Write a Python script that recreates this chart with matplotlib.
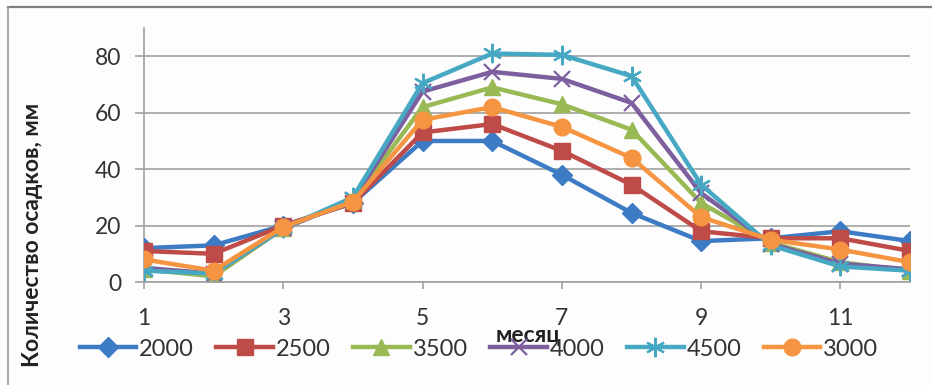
import matplotlib
matplotlib.use('Agg')
import matplotlib.pyplot as plt
from matplotlib.lines import Line2D

plt.rcParams['font.family'] = ['Lato', 'Open Sans', 'DejaVu Sans']

months = [1, 2, 3, 4, 5, 6, 7, 8, 9, 10, 11, 12]

p2000 = [12, 13, 20, 28, 50, 50, 38, 24.5, 14.5, 15.5, 18, 14.5]
p2500 = [11, 10, 20, 28, 53, 56, 46.5, 34.5, 18, 15.5, 15.5, 11]
p3500 = [4.5, 2, 19, 29, 62, 69, 63, 54, 28, 14, 7, 4]
p4000 = [5, 3, 19, 29, 67.5, 74.5, 72, 63.5, 31.5, 13.5, 6.5, 4.5]
p4500 = [4, 3, 19, 30, 70.5, 81, 80.5, 73, 34.5, 13, 5.5, 4]
p3000 = [8, 4, 19.5, 28.5, 57.5, 62, 55, 44, 23, 15, 11.5, 7]

labels = ['2000', '2500', '3500', '4000', '4500', '3000']
series = [p2000, p2500, p3500, p4000, p4500, p3000]

colors = ['#3d7cc4', '#be4b48', '#98b954', '#7d5fa0', '#46a8c3', '#f59441']
markers = ['D', 's', '^', 'x', (6, 2, 0), 'o']
msizes = [10, 11, 12, 12, 14, 12]

fig = plt.figure(figsize=(9.32, 3.85), dpi=100)
fig.patch.set_facecolor('#fdfdfd')
ax = fig.add_axes([0.1545, 0.2675, 0.822, 0.6595])
ax.set_facecolor('#fdfdfd')

for y, lab, c, m, ms in zip(series, labels, colors, markers, msizes):
    thin = m in ('x', (6, 2, 0))
    ax.plot(months, y, color=c, lw=3.2, marker=m, markersize=ms,
            markerfacecolor=c, markeredgecolor=c,
            markeredgewidth=1.6 if thin else 1, label=lab)

ax.set_xlim(1, 12)
ax.set_ylim(0, 90)
ax.set_xticks([1, 3, 5, 7, 9, 11])
ax.set_yticks([0, 20, 40, 60, 80])
ax.grid(axis='y', color='#a0a0a0', lw=1.2)
ax.set_axisbelow(True)
for s in ['top', 'right']:
    ax.spines[s].set_visible(False)
for s in ['left', 'bottom']:
    ax.spines[s].set_color('#a0a0a0')
    ax.spines[s].set_linewidth(1.2)
ax.spines['left'].set_zorder(0.5)
ax.tick_params(axis='y', length=6.5, width=1.2, color='#a0a0a0', pad=10,
               labelsize=16.5, labelcolor='#333333')
ax.tick_params(axis='x', length=5, width=1.2, color='#a0a0a0', pad=14,
               labelsize=16.5, labelcolor='#333333')

ax.set_ylabel('Количество осадков, мм', fontsize=16.5, fontweight='bold',
              color='#222222', va='center')
ax.yaxis.set_label_coords(-0.145, 0.185)

fig.legend(loc='center', bbox_to_anchor=(479 / 932, 1 - 349 / 385), ncol=6,
           frameon=False, fontsize=17, handlelength=2.4, handletextpad=0.12,
           columnspacing=0.95, labelcolor='#333333')

fig.text(528 / 932, 1 - 336 / 385, 'месяц', fontsize=16.5, fontweight='bold',
         color='#222222', ha='center', va='center')

# frame lines along the top and left edges
fig.add_artist(Line2D([8 / 932, 1], [1 - 7 / 385, 1 - 7 / 385],
                      transform=fig.transFigure, color='#7f7f7f', lw=1.6))
fig.add_artist(Line2D([8 / 932, 8 / 932], [0, 1 - 7 / 385],
                      transform=fig.transFigure, color='#9a9a9a', lw=1.2))

fig.savefig('out.png', dpi=100, facecolor=fig.get_facecolor())
